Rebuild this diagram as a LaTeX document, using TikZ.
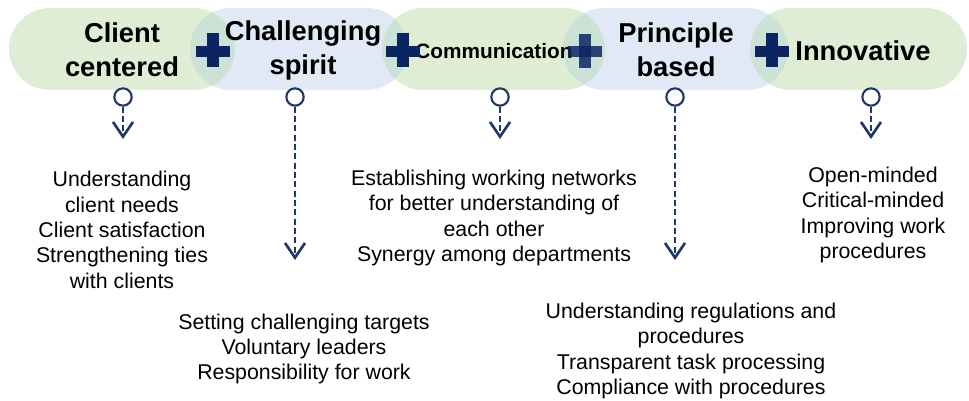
\documentclass[tikz,border=0pt]{standalone}
\usepackage{fontspec}
\setmainfont{Liberation Sans}
\usetikzlibrary{arrows.meta}

\definecolor{capgreen}{HTML}{DEEDD4}
\definecolor{capblue}{HTML}{E1E9F6}
\definecolor{capmix}{HTML}{CCE2D6}
\definecolor{navy}{HTML}{0B2563}
\definecolor{pinblue}{HTML}{1F3864}

\tikzset{
    capsule/.style={rounded corners=30.75pt},
    heading/.style={
        align=center,
        font=\fontsize{20.5}{25.5}\selectfont\bfseries},
    bodytext/.style={
        align=center,
        font=\fontsize{16}{19}\selectfont},
    pin/.style={
        circle,
        draw=pinblue,
        line width=1.6pt,
        fill=white,
        minimum size=13pt,
        inner sep=0pt},
    pinline/.style={
        draw=pinblue,
        line width=1.5pt,
        dash pattern=on 4.5pt off 2.5pt,
        -{Straight Barb[length=11pt,width=15pt,line width=2pt]}},
    plusmark/.style={fill=navy}
}

\begin{document}
\begin{tikzpicture}[x=0.75pt, y=-0.75pt]
    \useasboundingbox (0,0) rectangle (969,400);

    % capsules
    \fill[capgreen, capsule] (9,8) rectangle (235,90);
    \fill[capblue, capsule] (190,8) rectangle (408,90);
    \fill[capgreen, capsule] (382,8) rectangle (605,90);
    \fill[capblue, capsule] (563,8) rectangle (788,90);
    \fill[capgreen, capsule] (750,8) rectangle (967,90);

    % overlaps
    \begin{scope}
        \clip[capsule] (9,8) rectangle (235,90);
        \fill[capmix, capsule] (190,8) rectangle (408,90);
    \end{scope}
    \begin{scope}
        \clip[capsule] (190,8) rectangle (408,90);
        \fill[capmix, capsule] (382,8) rectangle (605,90);
    \end{scope}
    \begin{scope}
        \clip[capsule] (382,8) rectangle (605,90);
        \fill[capmix, capsule] (563,8) rectangle (788,90);
    \end{scope}
    \begin{scope}
        \clip[capsule] (563,8) rectangle (788,90);
        \fill[capmix, capsule] (750,8) rectangle (967,90);
    \end{scope}

    % headings
    \node[heading] (client) at (122,50) {Client\\centered};
    \node[heading] (challenge) at (303,50) {Challenging\\spirit};
    \node[
        heading,
        font=\fontsize{15.6}{19}\selectfont\bfseries]
        (communication) at (494,51) {Communication};
    \node[heading] (principle) at (676,50) {Principle\\based};
    \node[heading] (innovative) at (863,51) {Innovative};

    % plus signs
    \fill[plusmark] (195.5,45.5) rectangle (229.5,56.5);
    \fill[plusmark] (206.5,33) rectangle (218.5,67);
    \fill[plusmark] (386,45.5) rectangle (420,56.5);
    \fill[plusmark] (397,33) rectangle (409,67);
    \fill[plusmark, fill opacity=0.85] (568,46) rectangle (602,57);
    \fill[plusmark, fill opacity=0.85] (579,34) rectangle (591,68);
    \fill[plusmark] (755,45.5) rectangle (789,56.5);
    \fill[plusmark] (766,33) rectangle (778,67);

    % pins and arrows
    \node[pin] (pin1) at (123,97) {};
    \node[pin] (pin2) at (295,97) {};
    \node[pin] (pin3) at (500,97) {};
    \node[pin] (pin4) at (675,97) {};
    \node[pin] (pin5) at (871,97) {};
    \coordinate (tip1) at (123,139);
    \coordinate (tip2) at (295,260);
    \coordinate (tip3) at (500,139);
    \coordinate (tip4) at (675,260);
    \coordinate (tip5) at (871,139);
    \draw[pinline] (pin1) -- (tip1);
    \draw[pinline] (pin2) -- (tip2);
    \draw[pinline] (pin3) -- (tip3);
    \draw[pinline] (pin4) -- (tip4);
    \draw[pinline] (pin5) -- (tip5);

    % descriptions
    \node[bodytext] (clienttext) at (122,230) {Understanding\\client needs\\Client satisfaction\\Strengthening ties\\with clients};
    \node[bodytext] (challengetext) at (304,349) {Setting challenging targets\\Voluntary leaders\\Responsibility for work};
    \node[bodytext] (communicationtext) at (494,218) {Establishing working networks\\for better understanding of\\each other\\Synergy among departments};
    \node[bodytext] (principletext) at (691,351) {Understanding regulations and\\procedures\\Transparent task processing\\Compliance with procedures};
    \node[bodytext] (innovativetext) at (873,215) {Open-minded\\Critical-minded\\Improving work\\procedures};
\end{tikzpicture}
\end{document}
